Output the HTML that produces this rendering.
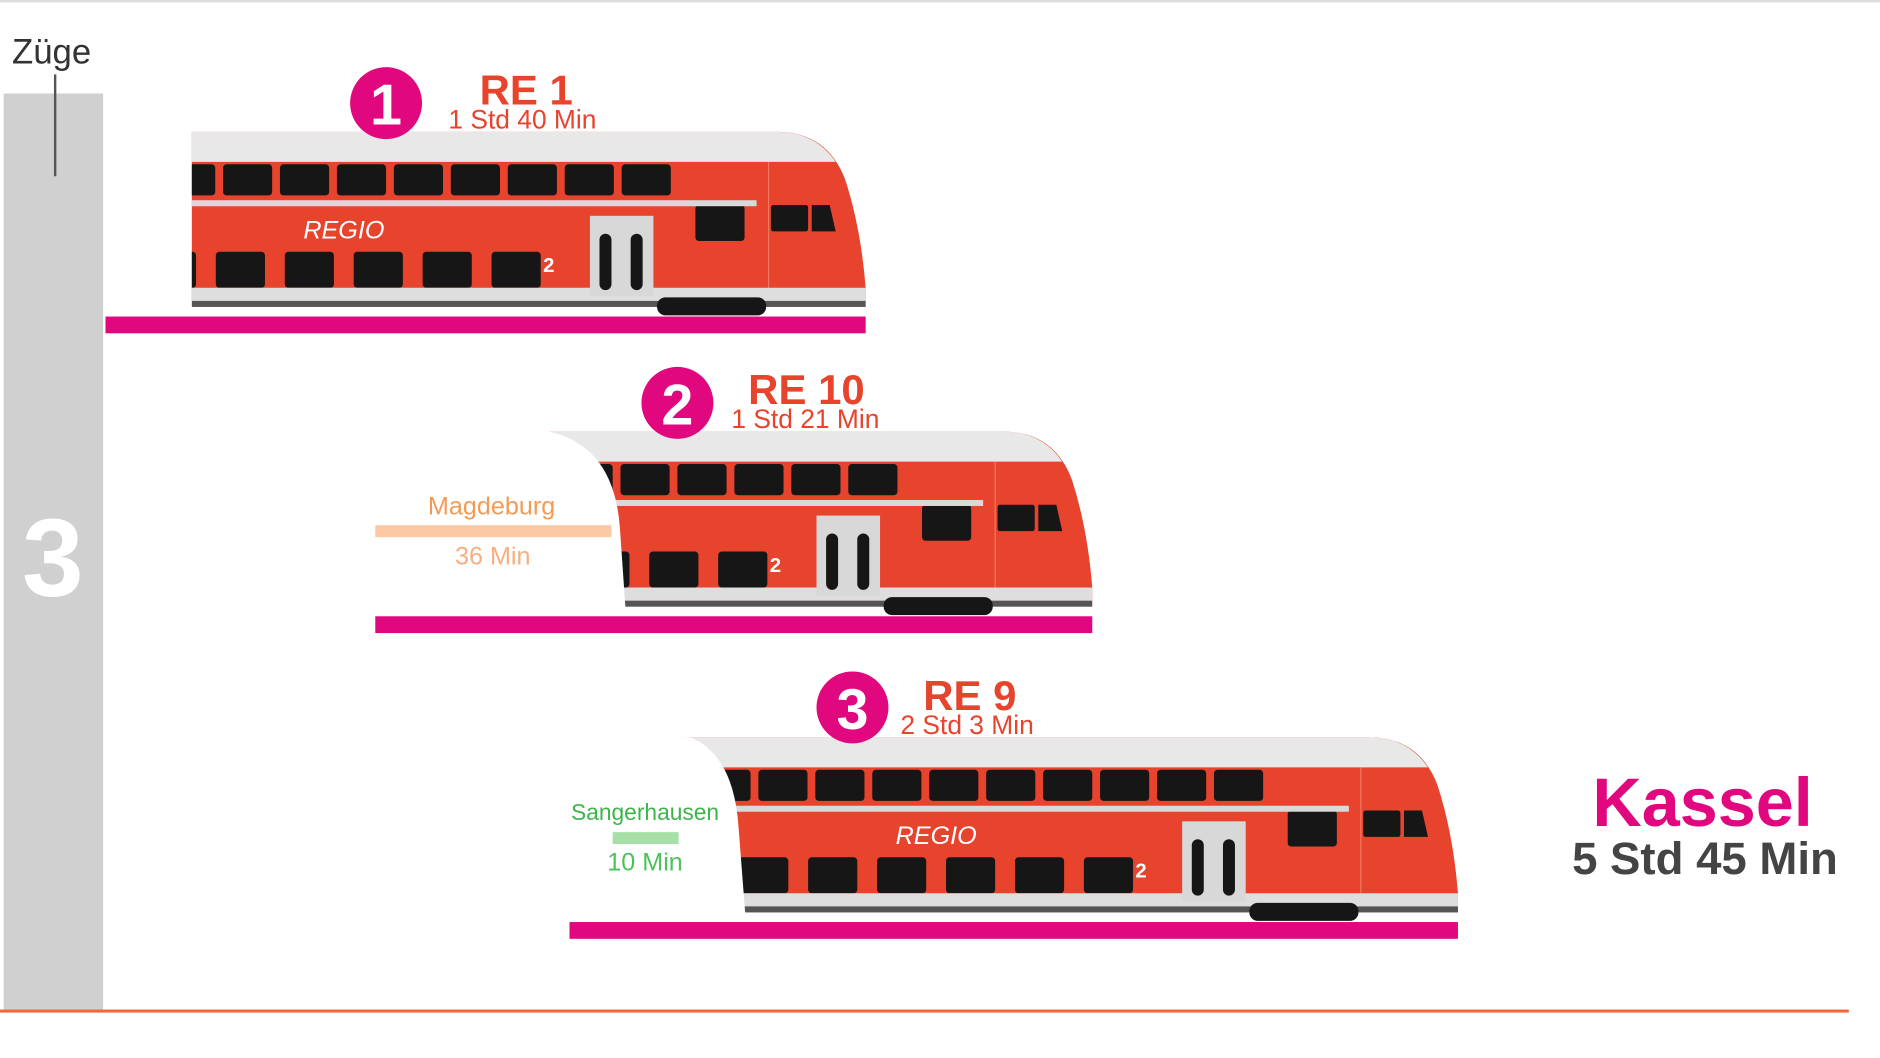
<!DOCTYPE html>
<html><head><meta charset="utf-8"><style>
html,body{margin:0;padding:0;background:#fff;}
svg{display:block;}
text{font-family:"Liberation Sans",sans-serif;}
</style></head><body>
<svg width="1880" height="1058" viewBox="0 0 1568 882.4" preserveAspectRatio="none" xmlns="http://www.w3.org/2000/svg">
<defs>
<clipPath id="c1"><rect x="160" y="0" width="700" height="300"/></clipPath>
<clipPath id="c2"><rect x="300" y="0" width="700" height="600"/></clipPath>
<clipPath id="c3"><rect x="470" y="0" width="800" height="900"/></clipPath>
<g id="train">
  <path d="M40 110 L648 110 Q690 110 705 150 Q718 190 722 240 L722 251 L40 251 Z" fill="#e8432d"/>
  <path d="M40 110 L648 110 Q680 110 697 135 L40 135 Z" fill="#e8e8e8"/>
  <g fill="#161616">
    <rect x="43" y="137" width="41" height="26" rx="3"/>
    <rect x="91" y="137" width="41" height="26" rx="3"/>
    <rect x="138.5" y="137" width="41" height="26" rx="3"/>
    <rect x="186" y="137" width="41" height="26" rx="3"/>
    <rect x="233.5" y="137" width="41" height="26" rx="3"/>
    <rect x="281" y="137" width="41" height="26" rx="3"/>
    <rect x="328.5" y="137" width="41" height="26" rx="3"/>
    <rect x="376" y="137" width="41" height="26" rx="3"/>
    <rect x="423.5" y="137" width="41" height="26" rx="3"/>
    <rect x="471" y="137" width="41" height="26" rx="3"/>
    <rect x="518.5" y="137" width="41" height="26" rx="3"/>
    <rect x="7.5" y="210" width="41" height="30" rx="3"/>
    <rect x="65" y="210" width="41" height="30" rx="3"/>
    <rect x="122.5" y="210" width="41" height="30" rx="3"/>
    <rect x="180" y="210" width="41" height="30" rx="3"/>
    <rect x="237.5" y="210" width="41" height="30" rx="3"/>
    <rect x="295" y="210" width="41" height="30" rx="3"/>
    <rect x="352.5" y="210" width="41" height="30" rx="3"/>
    <rect x="410" y="210" width="41" height="30" rx="3"/>
    <rect x="580" y="171" width="41" height="30" rx="3"/>
    <rect x="643" y="171" width="31" height="22" rx="2"/>
    <path d="M677 171 L692 171 L697 193 L677 193 Z"/>
  </g>
  <rect x="40" y="167" width="591" height="5" fill="#d9d9d9"/>
  <line x1="641" y1="135" x2="641" y2="240" stroke="#f07a60" stroke-width="1"/>
  <text x="253" y="199" font-size="21" font-style="italic" fill="#fff">REGIO</text>
  <text x="453" y="227" font-size="17" font-weight="bold" fill="#fff">2</text>
  <rect x="40" y="240" width="682" height="11" fill="#dedede"/>
  <rect x="40" y="251" width="682" height="5" fill="#555"/>
  <rect x="492" y="180" width="53" height="67" fill="#d8d8d8"/>
  <rect x="500" y="195" width="10" height="47" rx="5" fill="#161616"/>
  <rect x="526" y="195" width="10" height="47" rx="5" fill="#161616"/>
  <rect x="548" y="248" width="91" height="15" rx="7" fill="#161616"/>
</g>
</defs>
<rect x="0" y="0" width="1568" height="2" fill="#ddd"/>
<rect x="3" y="78" width="83" height="765" fill="#d0d0d0"/>
<text x="10" y="53" font-size="29" fill="#333">Züge</text>
<line x1="46" y1="62" x2="46" y2="147" stroke="#555" stroke-width="2"/>
<text x="44" y="497" font-size="92" font-weight="bold" fill="#fff" text-anchor="middle">3</text>
<rect x="0" y="842" width="1542" height="2.5" fill="#f2663a"/>

<g clip-path="url(#c1)"><use href="#train"/></g>
<rect x="88" y="264" width="634" height="14" fill="#e0077f"/>

<g clip-path="url(#c2)"><g transform="translate(189,250)"><use href="#train"/></g></g>
<path d="M250 352 L458 360 Q512 372 517 440 L522 512 L250 512 Z" fill="#fff"/>
<rect x="313" y="514" width="598" height="14" fill="#e0077f"/>

<g clip-path="url(#c3)"><g transform="translate(494,505)"><use href="#train"/></g></g>
<path d="M440 610 L576 615 Q612 630 616 690 L622 768 L440 768 Z" fill="#fff"/>
<rect x="475" y="769" width="741" height="14" fill="#e0077f"/>

<circle cx="322" cy="86" r="30" fill="#e0077f"/>
<text x="322" y="104" font-size="48" font-weight="bold" fill="#fff" text-anchor="middle">1</text>
<text x="400" y="87" font-size="35" font-weight="bold" fill="#e8432d">RE 1</text>
<text x="374" y="107" font-size="22" fill="#e8432d">1 Std 40 Min</text>

<circle cx="565" cy="336" r="30" fill="#e0077f"/>
<text x="565" y="354" font-size="48" font-weight="bold" fill="#fff" text-anchor="middle">2</text>
<text x="624" y="337" font-size="35" font-weight="bold" fill="#e8432d">RE 10</text>
<text x="610" y="357" font-size="22" fill="#e8432d">1 Std 21 Min</text>

<circle cx="711" cy="590" r="30" fill="#e0077f"/>
<text x="711" y="608" font-size="48" font-weight="bold" fill="#fff" text-anchor="middle">3</text>
<text x="770" y="592" font-size="35" font-weight="bold" fill="#e8432d">RE 9</text>
<text x="751" y="612" font-size="22" fill="#e8432d">2 Std 3 Min</text>

<text x="410" y="429" font-size="21" fill="#f49a55" text-anchor="middle">Magdeburg</text>
<rect x="313" y="438" width="197" height="10" fill="#fcc9a2"/>
<text x="411" y="471" font-size="21" fill="#f7ae80" text-anchor="middle">36 Min</text>

<text x="538" y="684" font-size="19" fill="#3cb54a" text-anchor="middle">Sangerhausen</text>
<rect x="511" y="694" width="55" height="10" fill="#a6e0a6"/>
<text x="538" y="726" font-size="21" fill="#4cc25a" text-anchor="middle">10 Min</text>

<text x="1420" y="689" font-size="57" font-weight="bold" fill="#e0077f" text-anchor="middle">Kassel</text>
<text x="1422" y="729" font-size="38" font-weight="bold" fill="#444" text-anchor="middle">5 Std 45 Min</text>
</svg>
</body></html>
